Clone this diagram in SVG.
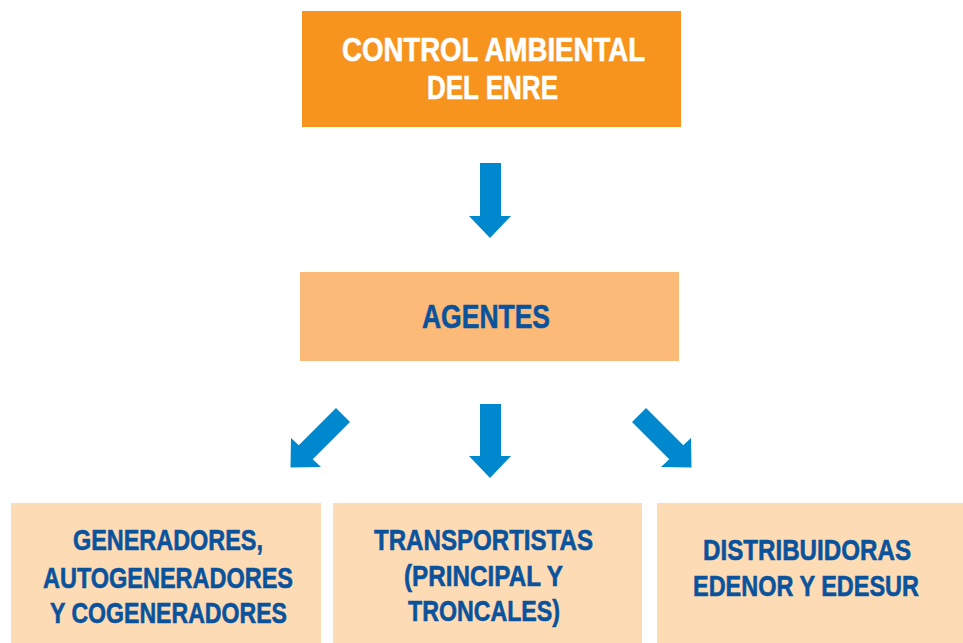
<svg xmlns="http://www.w3.org/2000/svg" width="963" height="643" viewBox="0 0 963 643">
<style>
text{font-family:"Liberation Sans",Arial,sans-serif;font-weight:bold;text-anchor:middle}
.w{fill:#ffffff;stroke:#ffffff;stroke-width:0.6;font-size:33px}
.b{fill:#0a539c;stroke:#0a539c;stroke-width:0.6}
.m{font-size:34px}
.s{font-size:29.5px}
.arr{fill:#0088cf}
</style>
<rect width="963" height="643" fill="#ffffff"/>
<g id="control">
<rect x="302" y="11" width="379" height="116" fill="#f7941e"/>
<text class="w" x="493.5" y="61" textLength="303" lengthAdjust="spacingAndGlyphs">CONTROL AMBIENTAL</text>
<text class="w" x="492.5" y="99" textLength="131" lengthAdjust="spacingAndGlyphs">DEL ENRE</text>
</g>
<g id="agentes">
<rect x="300" y="272" width="379" height="89" fill="#fbba77"/>
<text class="b m" x="486" y="328" textLength="128" lengthAdjust="spacingAndGlyphs">AGENTES</text>
</g>
<g id="generadores">
<rect x="11" y="503" width="310" height="140" fill="#fddbb4"/>
<text class="b s" x="168" y="550" textLength="190" lengthAdjust="spacingAndGlyphs">GENERADORES,</text>
<text class="b s" x="168" y="588" textLength="250" lengthAdjust="spacingAndGlyphs">AUTOGENERADORES</text>
<text class="b s" x="168.5" y="623" textLength="237" lengthAdjust="spacingAndGlyphs">Y COGENERADORES</text>
</g>
<g id="transportistas">
<rect x="333" y="503" width="309" height="140" fill="#fddbb4"/>
<text class="b s" x="483.5" y="550" textLength="219" lengthAdjust="spacingAndGlyphs">TRANSPORTISTAS</text>
<text class="b s" x="483.5" y="586" textLength="159" lengthAdjust="spacingAndGlyphs">(PRINCIPAL Y</text>
<text class="b s" x="484" y="621" textLength="152" lengthAdjust="spacingAndGlyphs">TRONCALES)</text>
</g>
<g id="distribuidoras">
<rect x="657" y="503" width="306" height="140" fill="#fddbb4"/>
<text class="b s" x="807" y="560" textLength="208" lengthAdjust="spacingAndGlyphs">DISTRIBUIDORAS</text>
<text class="b s" x="806" y="596" textLength="226" lengthAdjust="spacingAndGlyphs">EDENOR Y EDESUR</text>
</g>
<g id="connectors">
<polygon class="arr" points="480,163 501,163 501,216 511,216 490,238 469,216 480,216"/>
<polygon class="arr" points="480,404 501,404 501,456 511,456 490,478 469,456 480,456"/>
<polygon class="arr" points="336,408 350,422 312.75,459.25 321,467 290.5,467.5 291,438 298.75,445.25"/>
<polygon class="arr" points="646,408 632,422 669.25,459.25 661,467 691.5,467.5 691,438 683.25,445.25"/>
</g>
</svg>
